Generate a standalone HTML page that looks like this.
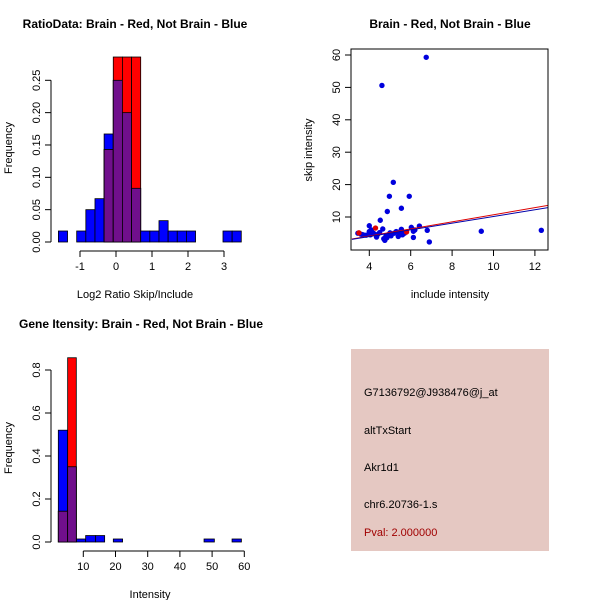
<!DOCTYPE html>
<html><head><meta charset="utf-8"><style>
html,body{margin:0;padding:0;background:#fff;}
svg{display:block;font-family:"Liberation Sans",sans-serif;}
</style></head><body>
<svg id="c" width="600" height="600" viewBox="0 0 600 600">
<rect width="600" height="600" fill="#fff"/>
<g id="p1"></g>
<g id="p2"></g>
<g id="p3"></g>
<g>
<rect x="351" y="349" width="198" height="202" fill="#e5c8c2"/>
<text x="364" y="396" font-size="11" fill="#000">G7136792@J938476@j_at</text>
<text x="364" y="434" font-size="11" fill="#000">altTxStart</text>
<text x="364" y="471" font-size="11" fill="#000">Akr1d1</text>
<text x="364" y="508" font-size="11" fill="#000">chr6.20736-1.s</text>
<text x="364" y="536" font-size="11" fill="#a00000">Pval: 2.000000</text>
</g>
</svg>
<script>
// ---------- Panel 1 data ----------
const ratioBinStart = -1.6;
const ratioBinWidth = 0.254;
const ratioBlue = [0.017,0,0.017,0.05,0.067,0.167,0.25,0.2,0.083,0.017,0.017,0.033,0.017,0.017,0.017,0,0,0,0.017,0.017];
const ratioRed  = [0,0,0,0,0,0.143,0.286,0.286,0.286,0,0,0,0,0,0,0,0,0,0,0];
const ratioYTicks = [0,0.05,0.10,0.15,0.20,0.25];
const ratioYLabels = ["0.00","0.05","0.10","0.15","0.20","0.25"];
const ratioXTicks = [-1,0,1,2,3];
// ---------- Panel 2 data ----------
const scatBlueX = [6.75,4.61,5.16,4.97,5.93,5.55,4.87,4.53,9.41,12.31,6.90,6.80,6.42,6.03,6.13,6.13,5.55,3.45,3.6,3.7,3.85,4.0,4.0,4.05,4.1,4.2,4.35,4.4,4.5,4.65,4.7,4.75,4.8,4.85,4.9,5.0,5.05,5.2,5.3,5.4,5.45,5.5,5.6,5.7,6.2];
const scatBlueY = [59.3,50.6,20.7,16.4,16.4,12.7,11.7,9.0,5.6,5.9,2.3,5.9,7.2,6.8,5.6,3.7,6.2,5.0,4.7,4.5,4.4,7.3,5.5,4.5,6.0,5.0,3.8,4.6,5.2,6.3,3.3,2.8,4.0,3.6,4.5,5.1,4.2,5.0,5.5,4.0,4.8,5.5,4.5,5.0,6.0];
const scatRedX = [4.3,5.8,3.5];
const scatRedY = [6.6,5.4,5.1];
const fitBlue = [3.16,3.1,12.65,12.9];
const fitRed  = [3.16,3.2,12.65,13.6];
const scatXTicks = [4,6,8,10,12];
const scatYTicks = [10,20,30,40,50,60];
// ---------- Panel 3 data ----------
const intBlueL = [2.24,5.14,7.83,10.73,13.83,19.32,47.5,56.2];
const intBlueR = [5.14,7.83,10.73,13.83,16.63,22.2,50.7,59.1];
const intBlueH = [0.52,0.35,0.014,0.03,0.03,0.014,0.014,0.014];
const intRedL = [2.24,5.14];
const intRedR = [5.14,7.83];
const intRedH = [0.143,0.857];
const intYTicks = [0,0.2,0.4,0.6,0.8];
const intYLabels = ["0.0","0.2","0.4","0.6","0.8"];
const intXTicks = [10,20,30,40,50,60];

const NS="http://www.w3.org/2000/svg";
function mk(parent,tag,attrs){const e=document.createElementNS(NS,tag);for(const k in attrs)e.setAttribute(k,attrs[k]);parent.appendChild(e);return e;}
function txt(parent,x,y,s,opts){const t=mk(parent,'text',Object.assign({x:x,y:y,'font-size':11,'text-anchor':'middle',fill:'#000'},opts||{}));t.textContent=s;return t;}
const BLUE="#0000ff",RED="#ff0000",PURP="#700f8c";

// ===== Panel 1 =====
(function(){
const g=document.getElementById('p1');
const X=v=>80+(v+1)*36, Y=v=>242-v*646.8;
let t=txt(g,135,28,"RatioData: Brain - Red, Not Brain - Blue",{'font-weight':'bold','font-size':12});

for(let i=0;i<ratioBlue.length;i++){
  const x0=X(ratioBinStart+i*ratioBinWidth), x1=X(ratioBinStart+(i+1)*ratioBinWidth);
  const b=ratioBlue[i], r=ratioRed[i];
  if(b>0){const e=mk(g,'rect',{x:x0,y:Y(b),width:x1-x0,height:Y(0)-Y(b),fill:BLUE,stroke:'#000','stroke-width':0.8});
    }
  if(r>0){const e=mk(g,'rect',{x:x0,y:Y(r),width:x1-x0,height:Y(0)-Y(r),fill:RED,stroke:'#000','stroke-width':0.8});
    }
  const m=Math.min(b,r);
  if(m>0){const e=mk(g,'rect',{x:x0,y:Y(m),width:x1-x0,height:Y(0)-Y(m),fill:PURP,stroke:'#000','stroke-width':0.8});
    }
}
const ya=mk(g,'g',{});
mk(ya,'line',{x1:51,x2:51,y1:Y(0),y2:Y(0.25),stroke:'#000'});
ratioYTicks.forEach((v,i)=>{mk(ya,'line',{x1:45,x2:51,y1:Y(v),y2:Y(v),stroke:'#000'});
  txt(ya,0,0,ratioYLabels[i],{transform:`translate(40,${Y(v)}) rotate(-90)`});});
const xa=mk(g,'g',{});
mk(xa,'line',{x1:X(-1),x2:X(3),y1:251,y2:251,stroke:'#000'});
ratioXTicks.forEach(v=>{mk(xa,'line',{x1:X(v),x2:X(v),y1:251,y2:257,stroke:'#000'});txt(xa,X(v),270,String(v));});
t=txt(g,135,298,"Log2 Ratio Skip/Include");
t=txt(g,0,0,"Frequency",{transform:'translate(12,148) rotate(-90)'});
})();

// ===== Panel 2 =====
(function(){
const g=document.getElementById('p2');
const X=v=>369.3+(v-4)*20.7, Y=v=>249.4-v*3.24;
let t=txt(g,450,28,"Brain - Red, Not Brain - Blue",{'font-weight':'bold','font-size':12});

const cp=mk(g,'clipPath',{id:'cp2'});mk(cp,'rect',{x:351,y:49,width:197,height:201});
for(let i=0;i<scatBlueX.length;i++){const c=mk(g,'circle',{cx:X(scatBlueX[i]),cy:Y(scatBlueY[i]),r:2.7,fill:'#0000dd'});
  }
for(let i=0;i<scatRedX.length;i++){const c=mk(g,'circle',{cx:X(scatRedX[i]),cy:Y(scatRedY[i]),r:2.7,fill:'#dd0000'});
  }
let l=mk(g,'line',{x1:X(fitRed[0]),y1:Y(fitRed[1]),x2:X(fitRed[2]),y2:Y(fitRed[3]),stroke:'#dd0000','clip-path':'url(#cp2)'});

l=mk(g,'line',{x1:X(fitBlue[0]),y1:Y(fitBlue[1]),x2:X(fitBlue[2]),y2:Y(fitBlue[3]),stroke:'#0000aa','clip-path':'url(#cp2)'});

const b=mk(g,'rect',{x:351,y:49,width:197,height:201,fill:'none',stroke:'#000'});

const xa=mk(g,'g',{});
scatXTicks.forEach(v=>{mk(xa,'line',{x1:X(v),x2:X(v),y1:250,y2:256,stroke:'#000'});txt(xa,X(v),270,String(v));});
const ya=mk(g,'g',{});
scatYTicks.forEach(v=>{mk(ya,'line',{x1:345,x2:351,y1:Y(v),y2:Y(v),stroke:'#000'});txt(ya,0,0,String(v),{transform:`translate(340,${Y(v)}) rotate(-90)`});});
t=txt(g,450,298,"include intensity");
t=txt(g,0,0,"skip intensity",{transform:'translate(312,150) rotate(-90)'});
})();

// ===== Panel 3 =====
(function(){
const g=document.getElementById('p3');
const X=v=>83.3+(v-10)*3.22, Y=v=>542-v*215;
let t=txt(g,141,328,"Gene Itensity: Brain - Red, Not Brain - Blue",{'font-weight':'bold','font-size':12});

for(let i=0;i<intBlueL.length;i++){const x0=X(intBlueL[i]),x1=X(intBlueR[i]);
  const e=mk(g,'rect',{x:x0,y:Y(intBlueH[i]),width:x1-x0,height:Y(0)-Y(intBlueH[i]),fill:BLUE,stroke:'#000','stroke-width':0.8});
  }
for(let i=0;i<intRedL.length;i++){const x0=X(intRedL[i]),x1=X(intRedR[i]);
  const e=mk(g,'rect',{x:x0,y:Y(intRedH[i]),width:x1-x0,height:Y(0)-Y(intRedH[i]),fill:RED,stroke:'#000','stroke-width':0.8});
  
  let bh=0;for(let j=0;j<intBlueL.length;j++)if(Math.abs(intBlueL[j]-intRedL[i])<0.01)bh=intBlueH[j];
  const m=Math.min(bh,intRedH[i]);
  if(m>0){const p=mk(g,'rect',{x:x0,y:Y(m),width:x1-x0,height:Y(0)-Y(m),fill:PURP,stroke:'#000','stroke-width':0.8});
    }
}
const ya=mk(g,'g',{});
mk(ya,'line',{x1:51,x2:51,y1:Y(0),y2:Y(0.8),stroke:'#000'});
intYTicks.forEach((v,i)=>{mk(ya,'line',{x1:45,x2:51,y1:Y(v),y2:Y(v),stroke:'#000'});txt(ya,0,0,intYLabels[i],{transform:`translate(40,${Y(v)}) rotate(-90)`});});
const xa=mk(g,'g',{});
mk(xa,'line',{x1:X(10),x2:X(60),y1:551,y2:551,stroke:'#000'});
intXTicks.forEach(v=>{mk(xa,'line',{x1:X(v),x2:X(v),y1:551,y2:557,stroke:'#000'});txt(xa,X(v),570,String(v));});
t=txt(g,150,598,"Intensity");
t=txt(g,0,0,"Frequency",{transform:'translate(12,448) rotate(-90)'});
})();
</script>
</body></html>
